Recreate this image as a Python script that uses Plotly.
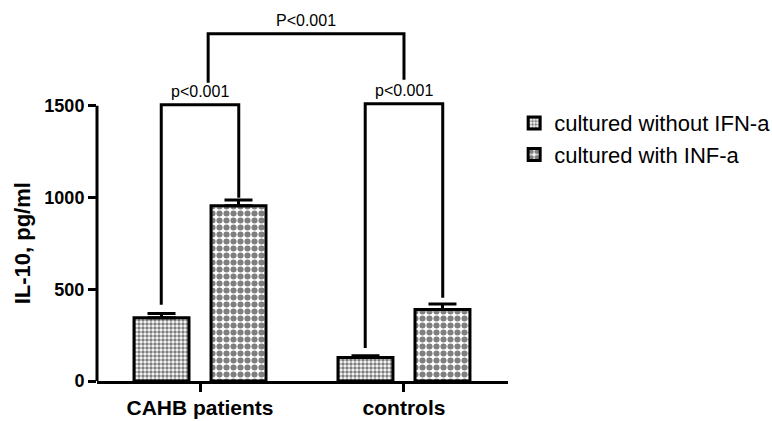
import plotly.graph_objects as go

# ---- data ----
categories = ["CAHB patients", "controls"]
series_names = ["cultured without IFN-a", "cultured with INF-a"]
without_ifn = [345, 128]
without_err = [23, 10]
with_ifn = [955, 390]
with_err = [32, 30]
y_ticks = [0, 500, 1000, 1500]
y_title = "IL-10, pg/ml"

# significance brackets (data units): [x_left, x_right, y_left_bottom, y_right_bottom, y_top, label]
brackets = [
    [-0.19, 0.19, 415, 998, 1505, "p<0.001"],
    [0.81, 1.19, 180, 453, 1511, "p<0.001"],
    [0.04, 1.0, 1625, 1642, 1893, "P<0.001"],
]

FONT = "Liberation Sans, Arial, sans-serif"

fig = go.Figure()
fig.add_trace(go.Bar(
    x=[0, 1], y=without_ifn, name=series_names[0],
    marker=dict(color="white", line=dict(color="black", width=3),
                pattern=dict(shape=".", size=4, solidity=0.6, fgcolor="black", bgcolor="white")),
    error_y=dict(type="data", array=without_err, arrayminus=[0, 0], color="black", thickness=3, width=14),
))
fig.add_trace(go.Bar(
    x=[0, 1], y=with_ifn, name=series_names[1],
    marker=dict(color="white", line=dict(color="black", width=3),
                pattern=dict(shape=".", size=7, solidity=0.6, fgcolor="black", bgcolor="white")),
    error_y=dict(type="data", array=with_err, arrayminus=[0, 0], color="black", thickness=3, width=14),
))

shapes = []
annotations = []
for xl, xr, yl, yr, yt, lab in brackets:
    path = f"M {xl},{yl} L {xl},{yt} L {xr},{yt} L {xr},{yr}"
    shapes.append(dict(type="path", path=path, xref="x", yref="y",
                       line=dict(color="black", width=3)))
    annotations.append(dict(x=(xl + xr) / 2, y=yt, xref="x", yref="y", text=lab,
                            showarrow=False, yanchor="bottom", yshift=3,
                            font=dict(family=FONT, size=16, color="black")))

# y axis title centred on the tick range
annotations.append(dict(x=-0.1825, xref="paper", y=(y_ticks[0] + y_ticks[-1]) / 2, yref="y",
                        text=y_title, textangle=-90, showarrow=False,
                        xanchor="center", yanchor="middle",
                        font=dict(family=FONT, size=22, color="black", weight="bold")))

# y axis line only spanning the tick range
shapes.append(dict(type="line", xref="paper", yref="y", x0=0, x1=0,
                   y0=y_ticks[0], y1=y_ticks[-1], line=dict(color="black", width=3)))

fig.update_layout(
    width=772, height=421,
    margin=dict(l=97, r=264, t=14, b=40, autoexpand=False),
    paper_bgcolor="white", plot_bgcolor="white",
    barmode="group", bargap=0.245, bargroupgap=0.286,
    shapes=shapes, annotations=annotations,
    font=dict(family=FONT, color="black"),
    legend=dict(x=1.015, xanchor="left", y=0.76, yanchor="top",
                font=dict(family=FONT, size=22, color="black"),
                itemwidth=30, tracegroupgap=0, bgcolor="rgba(0,0,0,0)"),
    xaxis=dict(range=[-0.505, 1.51], tickvals=[0, 1], ticktext=categories,
               showline=True, linecolor="black", linewidth=3, automargin=False,
               ticks="outside", ticklen=8, tickwidth=3, tickcolor="black",
               ticklabelstandoff=-2,
               tickfont=dict(family=FONT, size=21, color="black", weight="bold"),
               showgrid=False, zeroline=False),
    yaxis=dict(range=[0, 2000], tickvals=y_ticks, automargin=False,
               showline=False, ticks="outside", ticklen=8, tickwidth=3, tickcolor="black",
               tickfont=dict(family=FONT, size=18, color="black", weight="bold"),
               showgrid=False, zeroline=False),
)

fig.write_html("out.html", config={"displayModeBar": False},
               post_script="document.body.style.margin='0';document.body.style.overflow='hidden';")
